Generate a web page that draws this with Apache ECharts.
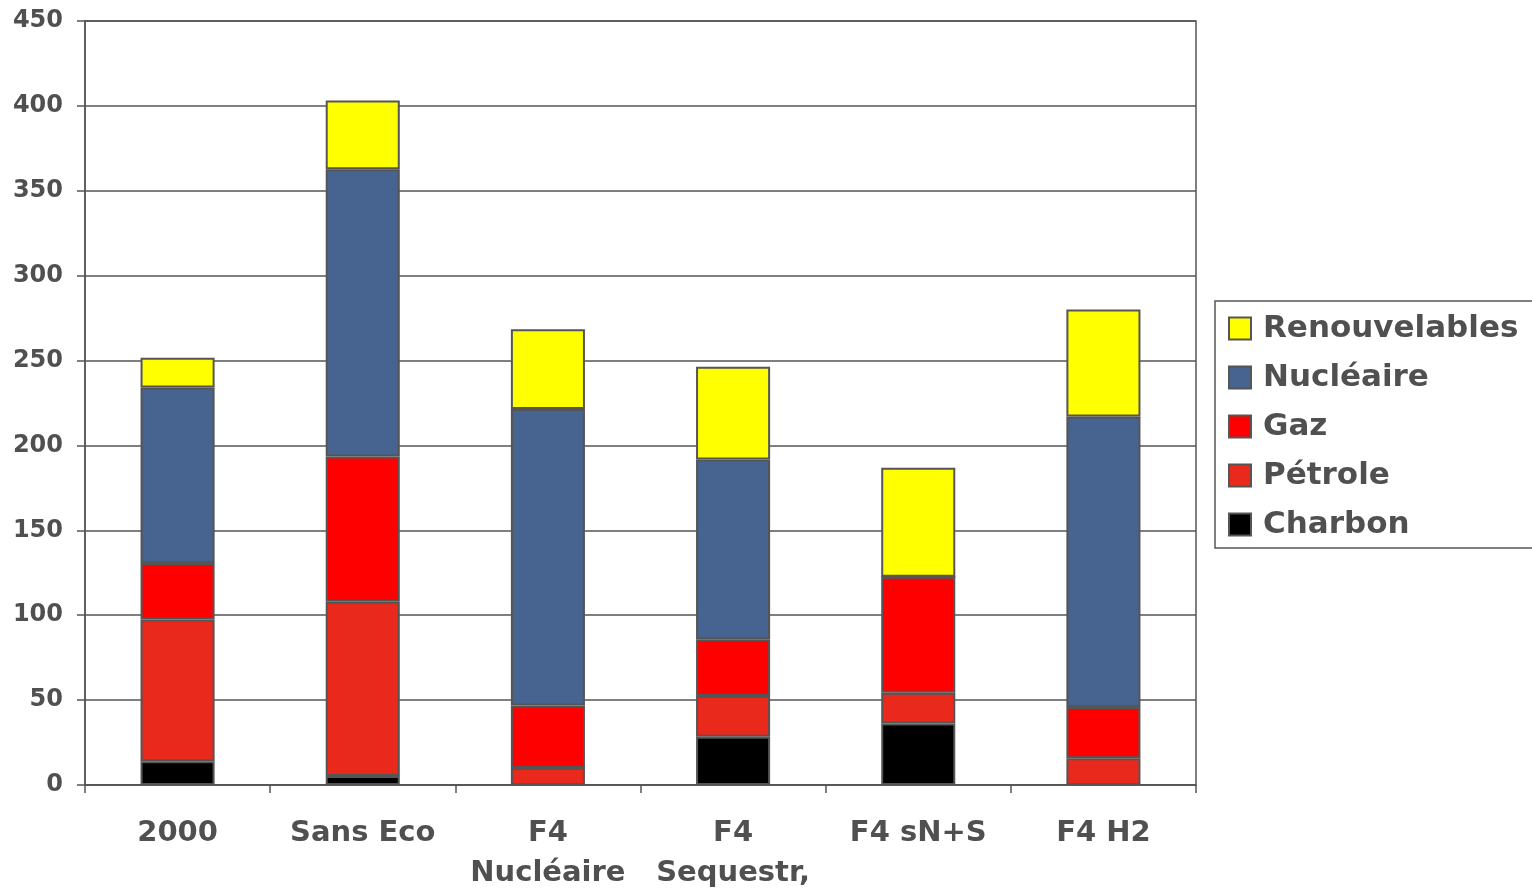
<!DOCTYPE html>
<html>
<head>
<meta charset="utf-8">
<script src="https://cdn.jsdelivr.net/npm/echarts@6/dist/echarts.min.js"></script>
<style>
html,body{margin:0;padding:0;background:#fff;}
#c{width:1532px;height:893px;}
</style>
</head>
<body>
<div id="c"></div>
<script>
const categories = ['2000', 'Sans Eco', 'F4\nNucléaire', 'F4\nSequestr,', 'F4 sN+S', 'F4 H2'];
const charbon = [14, 5.3, 0, 28.4, 36.2, 0];
const petrole = [83.5, 102.7, 10, 24, 18.2, 15.8];
const gaz = [33.3, 85.5, 36.8, 33.5, 68.3, 30.2];
const nucleaire = [103.3, 169.2, 174.6, 105.8, 0, 171];
const renouvelables = [17.6, 40.5, 47, 54.6, 64.1, 63];
const yTicks = { min: 0, max: 450, interval: 50 };

const txt = '#505050';
const edge = '#555555';
const font = 'DejaVu Sans';

function s(name, data, color) {
  return {
    name: name, type: 'bar', stack: 'total', data: data, barWidth: '40%',
    itemStyle: { color: color, borderColor: edge, borderWidth: 2 },
    emphasis: { disabled: true }
  };
}

const chart = echarts.init(document.getElementById('c'));
chart.setOption({
  animation: false,
  backgroundColor: '#ffffff',
  grid: { left: 85, right: 336, top: 21, bottom: 97, show: true, borderColor: edge, borderWidth: 1.5, backgroundColor: 'transparent' },
  legend: {
    data: ['Renouvelables', 'Nucléaire', 'Gaz', 'Pétrole', 'Charbon'],
    orient: 'vertical', left: 1215, top: 301,
    icon: 'rect',
    itemWidth: 22, itemHeight: 22, itemGap: 18,
    padding: [12, 20, 8, 13],
    borderColor: edge, borderWidth: 1.5,
    textStyle: { color: txt, fontFamily: font, fontWeight: 'bold', fontSize: 31, padding: [0, 0, 0, 7] }
  },
  xAxis: {
    type: 'category', data: categories,
    axisLine: { show: true, lineStyle: { color: edge, width: 1.5 } },
    axisTick: { show: true, length: 8, lineStyle: { color: edge, width: 1.5 } },
    axisLabel: { color: txt, fontFamily: font, fontWeight: 'bold', fontSize: 29, lineHeight: 40, margin: 28, interval: 0 }
  },
  yAxis: {
    type: 'value', min: yTicks.min, max: yTicks.max, interval: yTicks.interval,
    axisLine: { show: true, lineStyle: { color: edge, width: 1.5 } },
    axisTick: { show: true, length: 8, lineStyle: { color: edge, width: 1.5 } },
    splitLine: { show: true, lineStyle: { color: edge, width: 1.5 } },
    axisLabel: { color: txt, fontFamily: font, fontWeight: 'bold', fontSize: 24, margin: 22 }
  },
  series: [
    s('Charbon', charbon, '#000000'),
    s('Pétrole', petrole, '#E8291B'),
    s('Gaz', gaz, '#FF0000'),
    s('Nucléaire', nucleaire, '#46648F'),
    s('Renouvelables', renouvelables, '#FFFF00')
  ]
});
</script>
</body>
</html>
